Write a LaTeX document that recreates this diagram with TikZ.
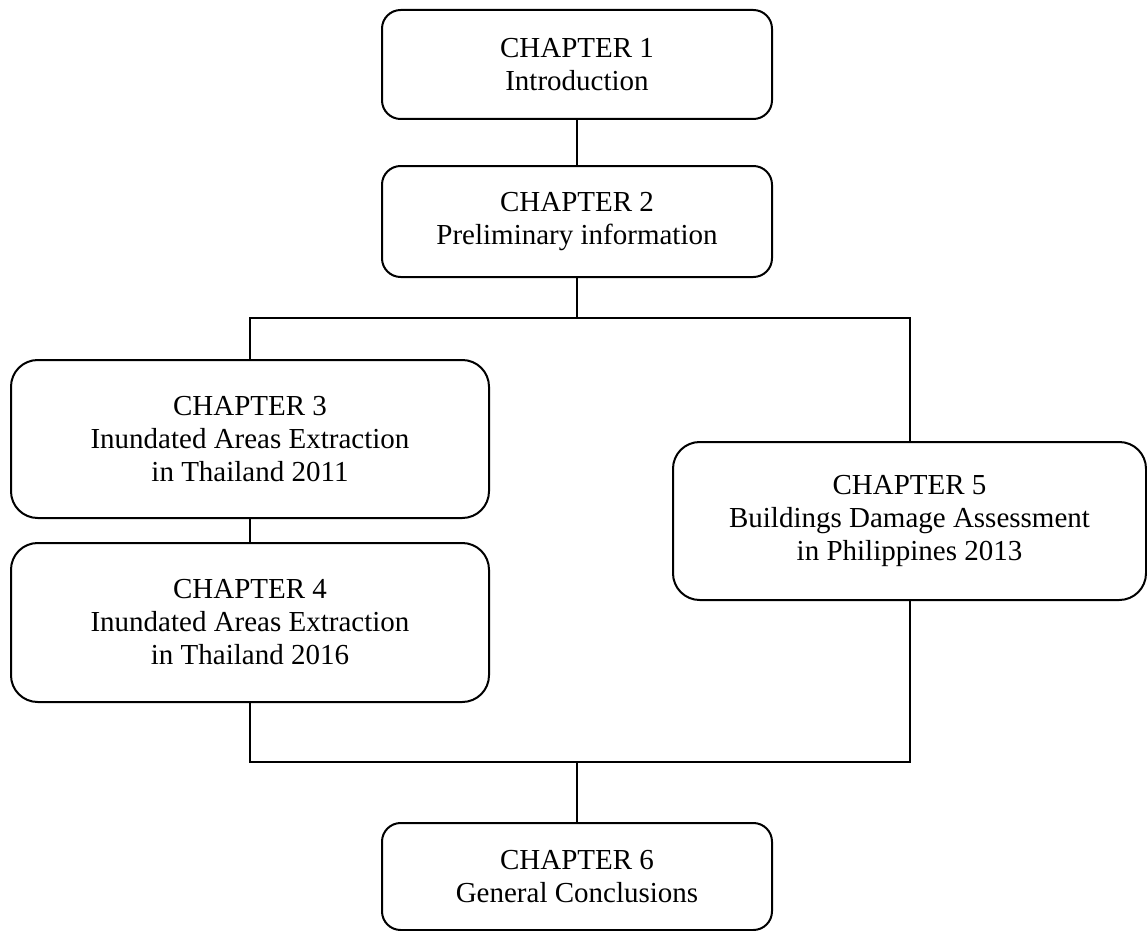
\documentclass[tikz,border=0pt]{standalone}
\usepackage{fontspec}
\setmainfont{Liberation Serif}
\begin{document}
\begin{tikzpicture}[x=0.75pt,y=-0.75pt,
  chap/.style={draw=black, line width=1.5pt, fill=white, align=center, inner sep=0pt,
    font=\fontsize{21.75pt}{24.75pt}\selectfont},
  small/.style={chap, rounded corners=14pt, minimum width=292.5pt},
  big/.style={chap, rounded corners=20pt},
  conn/.style={line width=1.5pt, black}]
\useasboundingbox (0,0) rectangle (1147,931);
\node[small, minimum height=81.75pt] (b1) at (577,64.5) {CHAPTER 1\\Introduction};
\node[small, minimum height=83.25pt] (b2) at (577,221.5) {CHAPTER 2\\Preliminary information};
\node[big, minimum width=358.5pt, minimum height=118.5pt] (b3) at (250,439) {CHAPTER 3\\Inundated Areas Extraction\\in Thailand 2011};
\node[big, minimum width=358.5pt, minimum height=119.25pt] (b4) at (250,622.5) {CHAPTER 4\\Inundated Areas Extraction\\in Thailand 2016};
\node[big, minimum width=354.75pt, minimum height=118.5pt] (b5) at (909.5,521) {CHAPTER 5\\Buildings Damage Assessment\\in Philippines 2013};
\node[small, minimum height=80.25pt] (b6) at (577,876.5) {CHAPTER 6\\General Conclusions};
\coordinate (top) at (577,318);
\coordinate (bot) at (577,762);
\draw[conn] (b1.south) -- (b2.north);
\draw[conn] (b2.south) -- (top);
\draw[conn] (b3.north) |- (top) -| (b5.north);
\draw[conn] (b3.south) -- (b4.north);
\draw[conn] (b4.south) |- (bot) -| (b5.south);
\draw[conn] (bot) -- (b6.north);
\end{tikzpicture}
\end{document}
